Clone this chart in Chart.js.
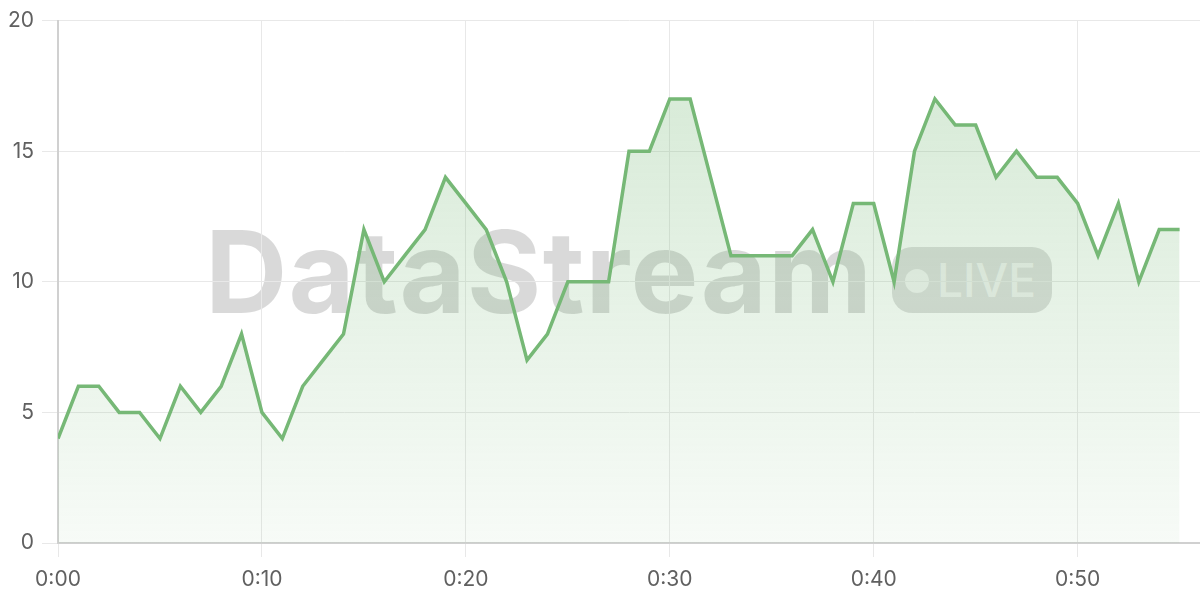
<!DOCTYPE html>
<html>
<head>
<meta charset="utf-8">
<script src="https://cdn.jsdelivr.net/npm/chart.js@4.4.1/dist/chart.umd.min.js"></script>
<style>
  html, body { margin: 0; padding: 0; background: #fff; }
  #wrap { position: relative; width: 1200px; height: 600px; }
  #mark {
    position: absolute; left: 0; top: 0; width: 1200px; height: 600px;
    pointer-events: none;
  }
  #mark .name {
    position: absolute; left: 205px; top: 197px;
    font-family: Inter, sans-serif; font-weight: 700; font-size: 114px;
    line-height: 150px; letter-spacing: 1.2px; color: rgba(0,0,0,0.15);
    white-space: nowrap;
  }
  #mark .pill {
    position: absolute; left: 892px; top: 247px; width: 160px; height: 66px;
    border-radius: 20px; background: rgba(0,0,0,0.13);
  }
  #mark .dot {
    position: absolute; left: 905px; top: 269px; width: 24px; height: 24px;
    border-radius: 50%; background: rgba(255,255,255,0.65);
  }
  #mark .live {
    position: absolute; left: 937px; top: 250px;
    font-family: Inter, sans-serif; font-weight: 500; font-size: 46px;
    line-height: 60px; color: rgba(255,255,255,0.65); white-space: nowrap;
  }
  #linechart { position: absolute; left: 0; top: 0; }
</style>
</head>
<body>
<div id="wrap">
  <div id="mark">
    <div class="name">DataStream</div>
    <div class="pill"></div>
    <div class="dot"></div>
    <div class="live">LIVE</div>
  </div>
  <canvas id="linechart" width="1200" height="600"></canvas>
</div>
<script>
// one reading per minute, 0:00 .. 0:55
const minutes = [];
for (let m = 0; m <= 55; m++) minutes.push(m);

const values = [
  4, 6, 6, 5, 5, 4, 6, 5, 6, 8,
  5, 4, 6, 7, 8, 12, 10, 11, 12, 14,
  13, 12, 10, 7, 8, 10, 10, 10, 15, 15,
  17, 17, 14, 11, 11, 11, 11, 12, 10, 13,
  13, 10, 15, 17, 16, 16, 14, 15, 14, 14,
  13, 11, 13, 10, 12, 12
];

const xTicks = [0, 10, 20, 30, 40, 50];
const yTicks = [0, 5, 10, 15, 20];

const green = '#76b876';

function fmt(m) {
  const h = Math.floor(m / 60);
  const mm = m % 60;
  return h + ':' + (mm < 10 ? '0' : '') + mm;
}

const ctx = document.getElementById('linechart');

new Chart(ctx, {
  type: 'line',
  data: {
    datasets: [{
      label: 'Live',
      data: minutes.map((m, i) => ({ x: m, y: values[i] })),
      borderColor: green,
      borderWidth: 3.5,
      pointRadius: 0,
      tension: 0,
      fill: 'origin',
      backgroundColor: (c) => {
        const area = c.chart.chartArea;
        if (!area) return 'rgba(118,184,118,0.2)';
        const g = c.chart.ctx.createLinearGradient(0, area.top, 0, area.bottom);
        g.addColorStop(0, 'rgba(118,184,118,0.32)');
        g.addColorStop(1, 'rgba(118,184,118,0.06)');
        return g;
      }
    }]
  },
  options: {
    responsive: false,
    animation: false,
    layout: { padding: { top: 20, right: 0, left: 0, bottom: 0 } },
    plugins: {
      legend: { display: false },
      tooltip: { enabled: false }
    },
    scales: {
      x: {
        type: 'linear',
        min: 0,
        max: 56,
        afterBuildTicks: (s) => { s.ticks = xTicks.map(v => ({ value: v })); },
        afterFit: (s) => { s.height = 57; },
        grid: { color: '#e8e8e8', lineWidth: 1, tickLength: 14 },
        border: { color: '#d0d0d0', width: 2 },
        ticks: {
          color: '#606060',
          padding: 10,
          maxRotation: 0,
          font: { family: 'Inter', size: 21 },
          callback: (v) => fmt(v)
        }
      },
      y: {
        min: 0,
        max: 20,
        afterBuildTicks: (s) => { s.ticks = yTicks.map(v => ({ value: v })); },
        afterFit: (s) => { s.width = 58; },
        grid: { color: '#e8e8e8', lineWidth: 1, tickLength: 16 },
        border: { color: '#d0d0d0', width: 2 },
        ticks: {
          color: '#606060',
          padding: 8,
          font: { family: 'Inter', size: 21 }
        }
      }
    }
  }
});
</script>
</body>
</html>
